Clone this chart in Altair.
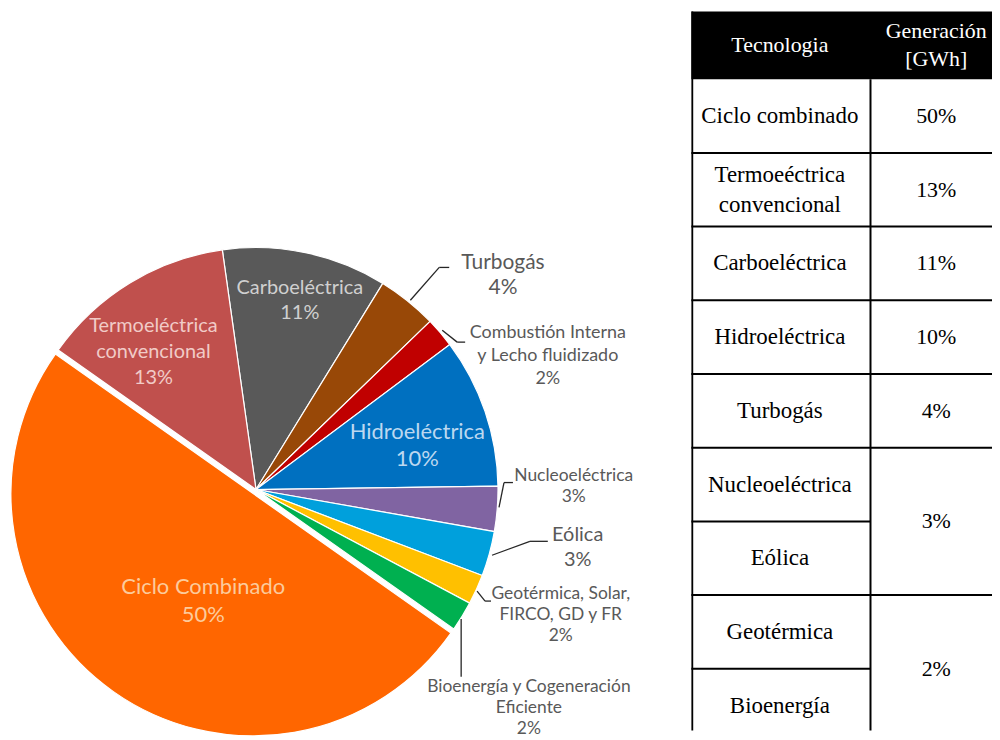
import math
import altair as alt
import pandas as pd

# ---------------- data ----------------
slices = [
    "Carboeléctrica", "Turbogás", "Combustión Interna y Lecho fluidizado",
    "Hidroeléctrica", "Nucleoeléctrica", "Eólica",
    "Geotérmica, Solar, FIRCO, GD y FR", "Bioenergía y Cogeneración Eficiente",
    "Ciclo Combinado", "Termoeléctrica convencional",
]
shares = [11, 4, 2, 10, 3, 3, 2, 2, 50, 13]
labels = [
    "Carboeléctrica\n11%", "Turbogás\n4%", "Combustión Interna\ny Lecho fluidizado\n2%",
    "Hidroeléctrica\n10%", "Nucleoeléctrica\n3%", "Eólica\n3%",
    "Geotérmica, Solar,\nFIRCO, GD y FR\n2%", "Bioenergía y Cogeneración\nEficiente\n2%",
    "Ciclo Combinado\n50%", "Termoeléctrica\nconvencional\n13%",
]
slice_colors = ["#595959", "#984807", "#C00000", "#0070C0", "#8064A2",
                "#00A0DC", "#FFC000", "#00B050", "#FF6600", "#C0504D"]

table_tech = ["Ciclo combinado", "Termoeéctrica\nconvencional", "Carboeléctrica",
              "Hidroeléctrica", "Turbogás", "Nucleoeléctrica", "Eólica",
              "Geotérmica", "Bioenergía"]
table_gen = ["50%", "13%", "11%", "10%", "4%", "3%", "2%"]
table_gen_span = [1, 1, 1, 1, 1, 2, 2]
table_header = ["Tecnologia", "Generación\n[GWh]"]

# ---------------- layout ----------------
W_PIE, W_TAB, H = 682, 302, 724
CX, CY, R = 245, 482, 243
START_DEG = -8
EXPLODE = 5  # px, for the largest slice
FONT = "Lato"
SERIF = "Liberation Serif"

# label block centre relative to pie centre: dx, dy, size, lineHeight, colour
label_layout = {
    "Carboeléctrica": (44, -190, 20, 25, "#D0D0D0"),
    "Turbogás": (248, -215, 21, 25, "#595959"),
    "Combustión Interna y Lecho fluidizado": (293, -134, 18, 23, "#595959"),
    "Hidroeléctrica": (162, -44, 22, 27, "#BCD8F0"),
    "Nucleoeléctrica": (319, -3, 17.5, 22, "#595959"),
    "Eólica": (323, 58, 20, 25, "#595959"),
    "Geotérmica, Solar, FIRCO, GD y FR": (306, 126, 17.5, 21.5, "#595959"),
    "Bioenergía y Cogeneración Eficiente": (274, 219, 17.5, 21, "#595959"),
    "Ciclo Combinado": (-53, 112, 22, 28, "#FCCB9C"),
    "Termoeléctrica convencional": (-103, -138, 20, 26.5, "#F1CBC7"),
}
# leader lines as polylines relative to pie centre
leaders = [
    [(155, -190), (184, -223), (194, -223)],
    [(187, -160), (202, -148), (210, -148)],
    [(244, 18), (249, -7), (258, -7)],
    [(237, 66), (275, 52), (293, 52)],
    [(222, 102), (230, 112), (236, 112)],
    [(206, 130), (206, 188)],
]

# ---------------- pie ----------------
pie_df = pd.DataFrame({"slice": slices, "share": shares, "label": labels,
                       "order": list(range(len(slices)))})
a0 = math.radians(START_DEG)
theta_scale = alt.Scale(domain=[0, 100], range=[a0, a0 + 2 * math.pi])
color_scale = alt.Scale(domain=slices, range=slice_colors)

base = (alt.Chart(pie_df)
        .transform_window(cum="sum(share)", sort=[alt.SortField("order")])
        .transform_calculate(start="datum.cum - datum.share"))

big = "Ciclo Combinado"
arcs = base.transform_filter(alt.datum.slice != big).mark_arc(
    outerRadius=R, stroke="white", strokeWidth=1.2
).encode(
    theta=alt.Theta("start:Q", scale=theta_scale),
    theta2="cum:Q",
    color=alt.Color("slice:N", scale=color_scale, legend=None),
    x=alt.value(CX), y=alt.value(CY),
)
mid_big = math.radians(START_DEG + 3.6 * (sum(shares[:8]) + shares[8] / 2))
ox, oy = EXPLODE * math.sin(mid_big), -EXPLODE * math.cos(mid_big)
arc_big = base.transform_filter(alt.datum.slice == big).mark_arc(
    outerRadius=R, stroke="white", strokeWidth=1.2
).encode(
    theta=alt.Theta("start:Q", scale=theta_scale),
    theta2="cum:Q",
    color=alt.Color("slice:N", scale=color_scale, legend=None),
    x=alt.value(CX + ox), y=alt.value(CY + oy),
)

seg_rows = []
for poly in leaders:
    for (x1, y1), (x2, y2) in zip(poly[:-1], poly[1:]):
        seg_rows.append({"x": CX + x1, "y": CY + y1, "x2": CX + x2, "y2": CY + y2})
lines = alt.Chart(pd.DataFrame(seg_rows)).mark_rule(
    color="#262626", strokeWidth=1.3
).encode(
    x=alt.X("x:Q", scale=None), y=alt.Y("y:Q", scale=None),
    x2="x2:Q", y2="y2:Q",
)

label_layers = []
for name, lab in zip(slices, labels):
    dx, dy, fs, lh, col = label_layout[name]
    n = lab.count("\n") + 1
    label_layers.append(
        alt.Chart(pie_df).transform_filter(alt.datum.slice == name).mark_text(
            font=FONT, fontSize=fs, lineHeight=lh, color=col,
            align="center", baseline="middle", lineBreak="\n",
        ).encode(text="label:N", x=alt.value(CX + dx), y=alt.value(CY + dy - (n - 1) * lh / 2))
    )

pie = alt.layer(arcs, arc_big, lines, *label_layers).properties(width=W_PIE, height=H)

# ---------------- table ----------------
COL_L, COL_D, COL_R = 0, 180, 320
ROW_PX = 74
row_scale = alt.Scale(domain=[-0.946, 8.838], reverse=True, nice=False, zero=False)
HDR_TOP = -0.919
X_C1, X_C2 = 89, 246
BODY_LH, HDR_LH = 30, 28


def first_line(y, text, lh):
    return y - (text.count("\n")) * lh / 2 / ROW_PX


tech_df = pd.DataFrame({"text": table_tech,
                        "y": [first_line(i + 0.5, t, BODY_LH) for i, t in enumerate(table_tech)],
                        "x": X_C1})
starts, s = [], 0
for sp in table_gen_span:
    starts.append(s)
    s += sp
gen_df = pd.DataFrame({"text": table_gen,
                       "y": [st + sp / 2 for st, sp in zip(starts, table_gen_span)],
                       "x": X_C2})
hdr_df = pd.DataFrame({"text": table_header,
                       "y": [first_line(HDR_TOP / 2, t, HDR_LH) for t in table_header],
                       "x": [X_C1, X_C2]})

hdr_rect = alt.Chart(pd.DataFrame({"x": [COL_L], "x2": [COL_R], "y": [HDR_TOP], "y2": [0]})).mark_rect(
    color="black", clip=True
).encode(x=alt.X("x:Q", scale=None), x2="x2:Q",
         y=alt.Y("y:Q", scale=row_scale, axis=None), y2="y2:Q")

h_rows = []
for i in range(1, len(table_tech)):
    h_rows.append({"x": COL_L, "x2": COL_D, "y": i})
for st in starts[1:]:
    h_rows.append({"x": COL_D, "x2": COL_R, "y": st})
h_lines = alt.Chart(pd.DataFrame(h_rows)).mark_rule(color="black", strokeWidth=2, clip=True).encode(
    x=alt.X("x:Q", scale=None), x2="x2:Q", y=alt.Y("y:Q", scale=row_scale, axis=None))
v_lines = alt.Chart(pd.DataFrame({"x": [COL_L + 1, COL_D], "y": [HDR_TOP, 0], "y2": [12, 12]})).mark_rule(
    color="black", strokeWidth=2, clip=True
).encode(x=alt.X("x:Q", scale=None), y=alt.Y("y:Q", scale=row_scale, axis=None), y2="y2:Q")

txt_kw = dict(font=SERIF, align="center", baseline="middle", lineBreak="\n")
tech_txt = alt.Chart(tech_df).mark_text(fontSize=23, lineHeight=BODY_LH, color="black", **txt_kw).encode(
    x=alt.X("x:Q", scale=None), y=alt.Y("y:Q", scale=row_scale, axis=None), text="text:N")
gen_txt = alt.Chart(gen_df).mark_text(fontSize=22, color="black", **txt_kw).encode(
    x=alt.X("x:Q", scale=None), y=alt.Y("y:Q", scale=row_scale, axis=None), text="text:N")
hdr_txt = alt.Chart(hdr_df).mark_text(fontSize=22, lineHeight=HDR_LH, color="white", **txt_kw).encode(
    x=alt.X("x:Q", scale=None), y=alt.Y("y:Q", scale=row_scale, axis=None), text="text:N")

table = alt.layer(hdr_rect, h_lines, v_lines, tech_txt, gen_txt, hdr_txt).properties(width=W_TAB, height=H)

chart = alt.hconcat(pie, table, spacing=0).properties(padding=0).configure_view(strokeWidth=0)
chart.save("out.html", embed_options={"renderer": "svg", "actions": False})
